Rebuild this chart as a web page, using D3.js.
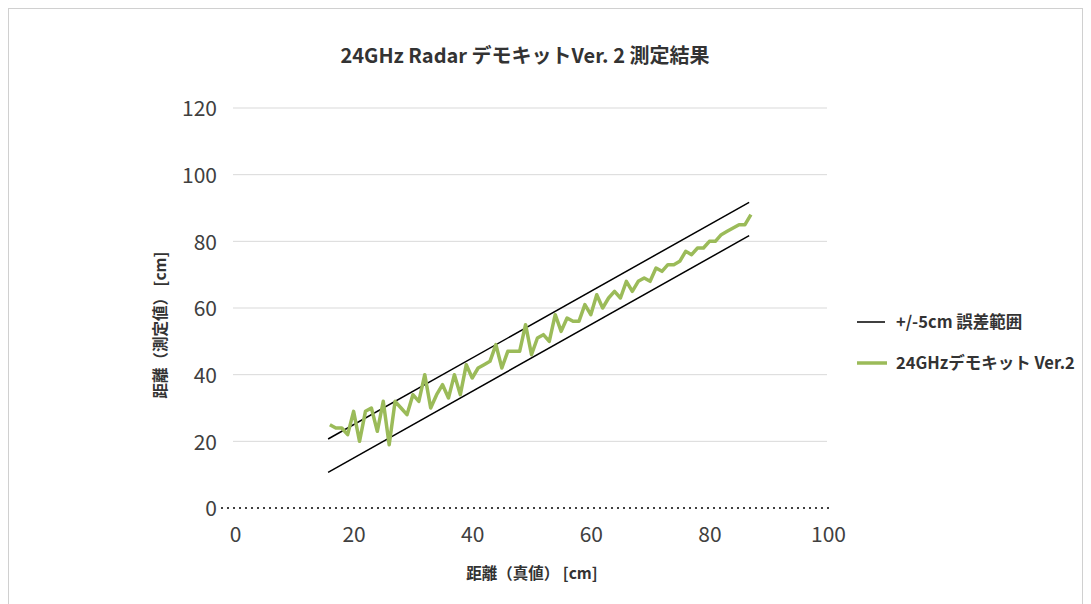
<!DOCTYPE html>
<html>
<head>
<meta charset="utf-8">
<script src="https://cdn.jsdelivr.net/npm/d3@7"></script>
<style>
  body { margin: 0; background: #fff; }
  svg { font-family: 'Noto Sans CJK JP', 'Noto Sans', sans-serif; }
</style>
</head>
<body>
<svg id="chart" width="1091" height="604"></svg>
<script>
// measured distance (cm) for true distance 16..87
const trueDist = d3.range(16, 88)
const measured = [25, 24, 24, 22, 29, 20, 29, 30, 23, 32,
  19, 32, 30, 28, 34, 32, 40, 30, 34, 37,
  33, 40, 34, 43, 39, 42, 43, 44, 49, 42,
  47, 47, 47, 55, 46, 51, 52, 50, 58, 53,
  57, 56, 56, 61, 58, 64, 60, 63, 65, 63,
  68, 65, 68, 69, 68, 72, 71, 73, 73, 74,
  77, 76, 78, 78, 80, 80, 82, 83, 84, 85,
  85, 88]
const bandX = [15.7, 86.7]
const upperBand = [20.7, 91.7]
const lowerBand = [10.7, 81.7]
const xTicks = [0, 20, 40, 60, 80, 100]
const yTicks = [0, 20, 40, 60, 80, 100, 120]
const seriesNames = ['+/-5cm 誤差範囲', '24GHzデモキット Ver.2']

const svg = d3.select('#chart')
const green = '#9bbb59'

svg.append('rect')
  .attr('x', 8.5).attr('y', 8.5)
  .attr('width', 1074).attr('height', 610)
  .attr('fill', 'none').attr('stroke', '#d0d0d0')

const x = d3.scaleLinear().domain([0, 100]).range([235, 828])
const y = d3.scaleLinear().domain([0, 120]).range([508, 108])

// gridlines
svg.append('g')
  .selectAll('line')
  .data(yTicks.filter(d => d > 0))
  .join('line')
  .attr('x1', 233).attr('x2', 827)
  .attr('y1', d => y(d)).attr('y2', d => y(d))
  .attr('stroke', '#d9d9d9').attr('stroke-width', 1)

// zero line, dotted
svg.append('line')
  .attr('x1', 221).attr('x2', 829)
  .attr('y1', y(0)).attr('y2', y(0))
  .attr('stroke', '#404040').attr('stroke-width', 2)
  .attr('stroke-dasharray', '2,4')

// y axis
const yAxis = svg.append('g')
  .attr('transform', 'translate(217,1)')
  .call(d3.axisLeft(y).tickValues(yTicks).tickSize(0).tickPadding(0))
yAxis.select('.domain').remove()
yAxis.selectAll('text')
  .attr('font-size', 21).attr('fill', '#404040')
  .attr('font-family', "'Noto Sans CJK JP', sans-serif")

// x axis
const xAxis = svg.append('g')
  .attr('transform', 'translate(0,527)')
  .call(d3.axisBottom(x).tickValues(xTicks).tickSize(0).tickPadding(0))
xAxis.select('.domain').remove()
xAxis.selectAll('text')
  .attr('font-size', 21).attr('fill', '#404040')
  .attr('font-family', "'Noto Sans CJK JP', sans-serif")

// band lines
const bandLine = d3.line().x((d, i) => x(bandX[i])).y(d => y(d))
;[upperBand, lowerBand].forEach(band => {
  svg.append('path')
    .attr('d', bandLine(band))
    .attr('fill', 'none').attr('stroke', '#000').attr('stroke-width', 1.5)
})

// measured series
svg.append('path')
  .attr('d', d3.line().x((d, i) => x(trueDist[i])).y(d => y(d))(measured))
  .attr('fill', 'none').attr('stroke', green)
  .attr('stroke-width', 3.5).attr('stroke-linejoin', 'round')

// title
svg.append('text')
  .attr('x', 525).attr('y', 63)
  .attr('text-anchor', 'middle')
  .attr('font-size', 20).attr('font-weight', 'bold').attr('fill', '#333')
  .text('24GHz Radar デモキットVer. 2 測定結果')

// axis titles
svg.append('text')
  .attr('x', 532).attr('y', 579)
  .attr('text-anchor', 'middle')
  .attr('font-size', 15.5).attr('font-weight', 'bold').attr('fill', '#333')
  .text('距離（真値） [cm]')

svg.append('text')
  .attr('transform', 'translate(166,325) rotate(-90)')
  .attr('text-anchor', 'middle')
  .attr('font-size', 15.5).attr('font-weight', 'bold').attr('fill', '#333')
  .text('距離（測定値） [cm]')

// legend
const legend = svg.append('g')
  .selectAll('g')
  .data(seriesNames)
  .join('g')
  .attr('transform', (d, i) => `translate(857,${322 + i * 41})`)
legend.append('line')
  .attr('x1', 0).attr('x2', (d, i) => i === 0 ? 28 : 30)
  .attr('stroke', (d, i) => i === 0 ? '#000' : green)
  .attr('stroke-width', (d, i) => i === 0 ? 1.5 : 3.5)
legend.append('text')
  .attr('x', 39).attr('y', 6)
  .attr('font-size', 16.5).attr('font-weight', 'bold').attr('fill', '#333')
  .text(d => d)
</script>
</body>
</html>
